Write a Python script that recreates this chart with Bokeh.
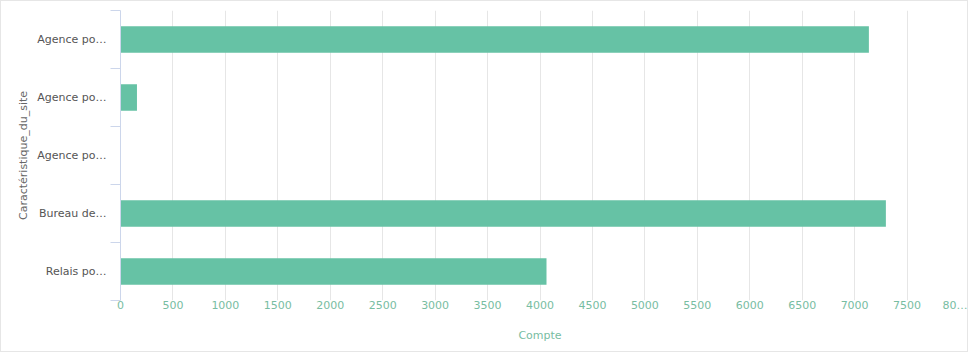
from bokeh.plotting import figure
from bokeh.models import Range1d, FixedTicker, ColumnDataSource
from bokeh.embed import file_html
from bokeh.resources import INLINE

categories = ["Agence po…", "Agence po…", "Agence po…", "Bureau de…", "Relais po…"]
counts = [7136, 157, 0, 7298, 4062]
x_ticks = [0, 500, 1000, 1500, 2000, 2500, 3000, 3500, 4000, 4500, 5000, 5500, 6000, 6500, 7000, 7500, 8000]
x_tick_labels = {8000: "80…"}

positions = list(range(len(categories)))
src = ColumnDataSource(dict(y=positions, right=counts))

FONT = "DejaVu Sans"

p = figure(width=968, height=352, output_backend="svg", toolbar_location=None,
           x_range=Range1d(0, 8000), y_range=Range1d(len(categories) - 0.5, -0.5),
           min_border_left=119, min_border_right=10, min_border_top=9, min_border_bottom=53)
p.styles = {"border": "1px solid #e6e6e6"}
p.outline_line_color = None

p.hbar(y="y", right="right", left=0, height=0.46, source=src,
       fill_color="#66c2a5", line_color=None)

# x axis
xa = p.xaxis[0]
xa.ticker = FixedTicker(ticks=x_ticks)
xa.major_label_overrides = x_tick_labels
xa.axis_line_color = None
xa.major_tick_line_color = None
xa.major_tick_out = 0
xa.major_tick_in = 0
xa.minor_tick_line_color = None
xa.minor_tick_out = 0
xa.minor_tick_in = 0
xa.major_label_text_color = "#78bda2"
xa.major_label_text_font = FONT
xa.major_label_text_font_size = "11px"
xa.major_label_standoff = -2
xa.axis_label = "Compte"
xa.axis_label_text_color = "#78bda2"
xa.axis_label_text_font = FONT
xa.axis_label_text_font_size = "11px"
xa.axis_label_text_font_style = "normal"
xa.axis_label_standoff = 14

# y axis
ya = p.yaxis[0]
ya.ticker = FixedTicker(ticks=positions, minor_ticks=[i - 0.5 for i in range(len(categories) + 1)])
ya.major_label_overrides = {i: c for i, c in enumerate(categories)}
ya.axis_line_color = "#ccd6eb"
ya.major_tick_line_color = None
ya.major_tick_out = 0
ya.major_tick_in = 0
ya.minor_tick_line_color = "#ccd6eb"
ya.minor_tick_out = 10
ya.minor_tick_in = 0
ya.major_label_text_color = "#555555"
ya.major_label_text_font = FONT
ya.major_label_text_font_size = "11px"
ya.major_label_standoff = 4
ya.axis_label = "Caractéristique_du_site"
ya.axis_label_text_color = "#666666"
ya.axis_label_text_font = FONT
ya.axis_label_text_font_size = "11px"
ya.axis_label_text_font_style = "normal"
ya.axis_label_standoff = 4

p.xgrid.grid_line_color = "#e6e6e6"
p.ygrid.grid_line_color = None

open("out.html", "w").write(file_html(p, INLINE))
